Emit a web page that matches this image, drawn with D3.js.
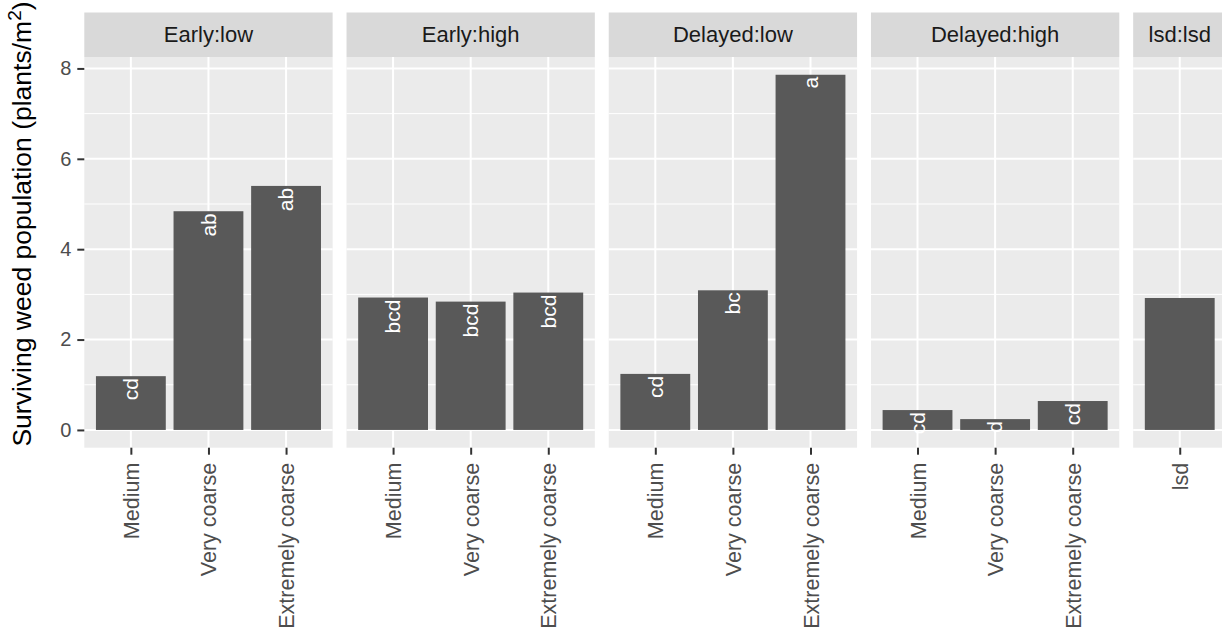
<!DOCTYPE html>
<html>
<head>
<meta charset="utf-8">
<script src="https://cdn.jsdelivr.net/npm/d3@7"></script>
<style>
  body { margin: 0; background: #fff; }
  text { font-family: "Liberation Sans", Arial, sans-serif; }
</style>
</head>
<body>
<div id="chart"></div>
<script>
const panels = ['Early:low', 'Early:high', 'Delayed:low', 'Delayed:high', 'lsd:lsd'];
const categories = [
  ['Medium', 'Very coarse', 'Extremely coarse'],
  ['Medium', 'Very coarse', 'Extremely coarse'],
  ['Medium', 'Very coarse', 'Extremely coarse'],
  ['Medium', 'Very coarse', 'Extremely coarse'],
  ['lsd']
];
const values = [
  [1.19, 4.84, 5.40],
  [2.93, 2.84, 3.04],
  [1.24, 3.09, 7.86],
  [0.44, 0.24, 0.64],
  [2.92]
];
const letters = [
  ['cd', 'ab', 'ab'],
  ['bcd', 'bcd', 'bcd'],
  ['cd', 'bc', 'a'],
  ['cd', 'd', 'cd'],
  ['']
];
const yTicks = [0, 2, 4, 6, 8];
const yMinor = [1, 3, 5, 7];

const width = 1222;
const height = 629;

const svg = d3.select('#chart')
  .append('svg')
  .attr('width', width)
  .attr('height', height);

const stripTop = 12.5;
const stripH = 44.5;
const panelTop = stripTop + stripH;
const panelBottom = 447.7;
const left0 = 84.3;
const gap = 13.9;
const unit = 77.6;

// Y Scale (ggplot style 5% expansion)
const ymax = d3.max(values.flat());
const pad = ymax * 0.05;
const y = d3.scaleLinear()
  .domain([-pad, ymax + pad])
  .range([panelBottom, panelTop]);

let left = left0;
panels.forEach((p, i) => {
  const cats = categories[i];
  const pw = unit * (cats.length - 1 + 1.2);
  const x = d3.scalePoint()
    .domain(cats)
    .range([left, left + pw])
    .padding(0.6);
  const bw = x.step() * 0.9;

  const g = svg.append('g');

  // panel background
  g.append('rect')
    .attr('x', left).attr('y', panelTop)
    .attr('width', pw).attr('height', panelBottom - panelTop)
    .attr('fill', '#EBEBEB');

  // strip
  g.append('rect')
    .attr('x', left).attr('y', stripTop)
    .attr('width', pw).attr('height', stripH)
    .attr('fill', '#D9D9D9');
  g.append('text')
    .attr('x', left + pw / 2)
    .attr('y', stripTop + stripH / 2)
    .attr('dy', '0.35em')
    .attr('text-anchor', 'middle')
    .attr('font-size', 22)
    .attr('fill', '#1A1A1A')
    .text(p);

  // grid
  g.selectAll('line.minor')
    .data(yMinor)
    .enter()
    .append('line')
    .attr('x1', left).attr('x2', left + pw)
    .attr('y1', d => y(d)).attr('y2', d => y(d))
    .attr('stroke', '#fff').attr('stroke-width', 1);
  g.selectAll('line.major')
    .data(yTicks)
    .enter()
    .append('line')
    .attr('x1', left).attr('x2', left + pw)
    .attr('y1', d => y(d)).attr('y2', d => y(d))
    .attr('stroke', '#fff').attr('stroke-width', 2);
  g.selectAll('line.vgrid')
    .data(cats)
    .enter()
    .append('line')
    .attr('x1', d => x(d)).attr('x2', d => x(d))
    .attr('y1', panelTop).attr('y2', panelBottom)
    .attr('stroke', '#fff').attr('stroke-width', 2);

  // Bars
  g.selectAll('rect.bar')
    .data(cats)
    .enter()
    .append('rect')
    .attr('class', 'bar')
    .attr('x', d => x(d) - bw / 2)
    .attr('width', bw)
    .attr('y', (d, j) => y(values[i][j]))
    .attr('height', (d, j) => y(0) - y(values[i][j]))
    .attr('fill', '#595959');

  // letters
  g.selectAll('text.bar-label')
    .data(cats)
    .enter()
    .append('text')
    .attr('class', 'bar-label')
    .attr('transform', (d, j) => `translate(${x(d)}, ${y(values[i][j]) + 2}) rotate(-90)`)
    .attr('dy', '0.35em')
    .attr('text-anchor', 'end')
    .attr('font-size', 21)
    .attr('fill', '#fff')
    .text((d, j) => letters[i][j]);

  // X Axis
  const xAxis = g.append('g')
    .attr('transform', `translate(0, ${panelBottom})`)
    .call(d3.axisBottom(x).tickSize(7).tickPadding(8));
  xAxis.select('.domain').remove();
  xAxis.selectAll('line').attr('stroke', '#333').attr('stroke-width', 2);
  xAxis.selectAll('text')
    .attr('font-size', 21.5)
    .attr('fill', '#4D4D4D')
    .attr('transform', 'rotate(-90)')
    .attr('text-anchor', 'end')
    .attr('x', -15)
    .attr('y', 0)
    .attr('dy', '0.35em');

  left += pw + gap;
});

// Y Axis
const yAxis = svg.append('g')
  .attr('transform', `translate(${left0}, 0)`)
  .call(d3.axisLeft(y).tickValues(yTicks).tickSize(7).tickPadding(6));
yAxis.select('.domain').remove();
yAxis.selectAll('line').attr('stroke', '#333').attr('stroke-width', 2);
yAxis.selectAll('text')
  .attr('font-size', 20)
  .attr('fill', '#4D4D4D')
  .attr('font-family', '"Liberation Sans", Arial, sans-serif');

// Y-axis label
const title = svg.append('text')
  .attr('transform', 'rotate(-90)')
  .attr('x', -224)
  .attr('y', 31)
  .attr('text-anchor', 'middle')
  .attr('font-size', 26.5)
  .attr('fill', '#000');
title.append('tspan').text('Surviving weed population (plants/m');
title.append('tspan').attr('baseline-shift', 'super').attr('font-size', 19).text('2');
title.append('tspan').text(')');
</script>
</body>
</html>
